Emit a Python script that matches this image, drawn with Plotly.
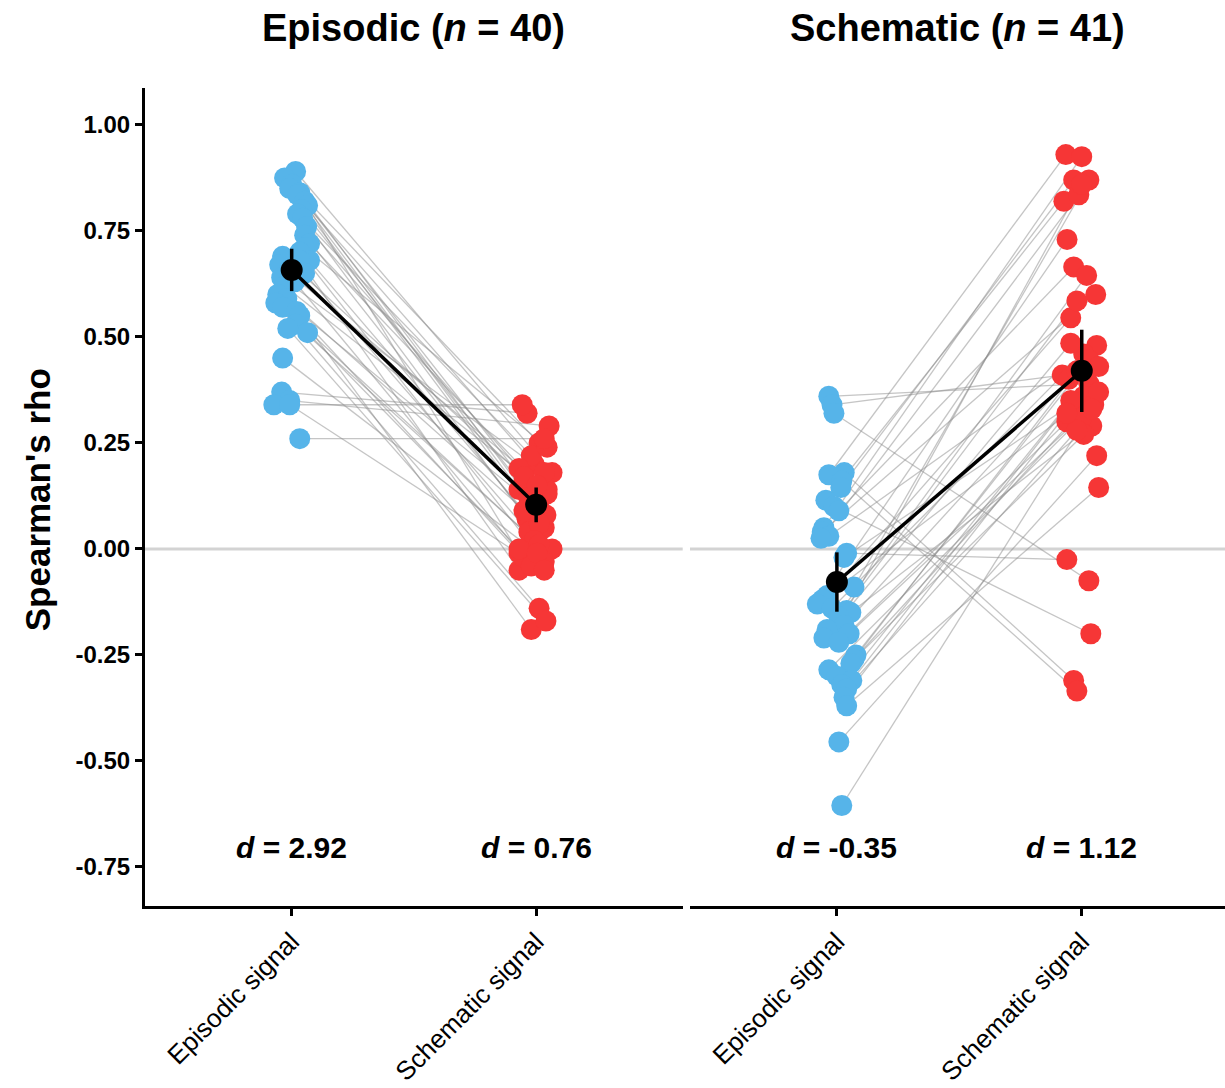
import plotly.graph_objects as go

# ---------------- data ----------------
categories = ["Episodic signal", "Schematic signal"]
panel_titles = ["<b>Episodic (<i>n</i> = 40)</b>", "<b>Schematic (<i>n</i> = 41)</b>"]
d_labels = [["<b><i>d</i> = 2.92</b>", "<b><i>d</i> = 0.76</b>"],
            ["<b><i>d</i> = -0.35</b>", "<b><i>d</i> = 1.12</b>"]]

# Episodic-task group (n = 40): per-subject rho for episodic and schematic signal
epi_task_episodic = [0.89, 0.875, 0.86, 0.85, 0.84, 0.835, 0.82, 0.81, 0.80, 0.79,
                     0.78, 0.76, 0.74, 0.72, 0.71, 0.70, 0.69, 0.68, 0.68, 0.67,
                     0.66, 0.65, 0.64, 0.63, 0.62, 0.60, 0.59, 0.58, 0.57, 0.56,
                     0.55, 0.53, 0.52, 0.51, 0.45, 0.37, 0.35, 0.34, 0.34, 0.26]
epi_task_schematic = [0.18, 0.14, 0.25, 0.05, 0.12, 0.20, -0.01, 0.16, 0.10, 0.22,
                      0.07, 0.19, 0.00, 0.13, 0.24, -0.03, 0.17, 0.09, -0.05, 0.14,
                      0.11, 0.04, 0.18, -0.02, 0.15, 0.08, 0.06, -0.14, 0.02, -0.19,
                      -0.04, 0.01, -0.17, 0.00, -0.01, 0.32, 0.29, 0.34, -0.05, 0.26]
# jitter (category units) as seen in the picture
epi_task_episodic_jit = [0.016, -0.029, 0.0, -0.008, 0.033, 0.024, 0.053, 0.065, 0.041, 0.024,
                         0.045, 0.061, 0.053, 0.073, 0.053, 0.033, -0.037, 0.073, 0.033, -0.049,
                         -0.008, 0.053, -0.041, 0.012, -0.029, -0.057, -0.02, -0.065, -0.037, 0.02,
                         0.033, 0.016, -0.016, 0.065, -0.037, -0.041, -0.008, -0.073, -0.008, 0.033]
epi_task_schematic_jit = [0.065, -0.07, 0.012, 0.033, -0.03, -0.008, -0.07, -0.05, 0.012, -0.02,
                          -0.037, -0.07, 0.065, 0.045, 0.045, 0.033, -0.05, -0.05, -0.07, 0.045,
                          -0.008, -0.03, 0.033, -0.05, 0.004, 0.04, 0.012, 0.012, -0.008, -0.02,
                          -0.02, 0.012, 0.04, -0.07, 0.004, -0.037, 0.053, -0.057, 0.033, 0.033]

# Schematic-task group (n = 41)
sch_task_episodic = [0.36, 0.34, 0.32, 0.18, 0.175, 0.16, 0.145, 0.115, 0.10, 0.09,
                     0.05, 0.04, 0.03, 0.025, -0.01, -0.02, -0.09, -0.11, -0.12, -0.13,
                     -0.14, -0.145, -0.15, -0.16, -0.18, -0.19, -0.20, -0.21, -0.22, -0.25,
                     -0.26, -0.27, -0.285, -0.30, -0.31, -0.32, -0.33, -0.35, -0.37, -0.455, -0.605]
sch_task_schematic = [0.39, 0.41, -0.075, -0.31, 0.93, -0.335, 0.87, 0.82, -0.20, 0.665,
                      0.925, 0.60, 0.48, 0.835, -0.025, 0.36, 0.87, 0.545, 0.33, 0.73,
                      0.46, 0.86, 0.29, 0.585, 0.40, 0.645, 0.34, 0.485, 0.30, 0.445,
                      0.37, 0.42, 0.31, 0.27, 0.43, 0.35, 0.28, 0.32, 0.145, 0.22, 0.33]
sch_task_episodic_jit = [-0.033, -0.02, -0.012, 0.03, -0.033, 0.02, 0.016, -0.045, -0.012, 0.008,
                         -0.053, -0.06, -0.033, -0.065, 0.04, 0.029, 0.07, -0.04, -0.06, -0.08,
                         -0.02, 0.04, 0.057, 0.008, 0.029, -0.04, 0.05, -0.053, 0.008, 0.078,
                         0.07, 0.057, -0.033, 0.0, 0.061, 0.02, 0.04, 0.029, 0.04, 0.008, 0.02]
sch_task_schematic_jit = [0.029, -0.08, 0.029, -0.033, -0.065, -0.02, -0.033, -0.073, 0.037, -0.033,
                          0.0, 0.057, 0.061, -0.012, -0.061, 0.008, 0.029, -0.045, -0.033, -0.06,
                          0.008, 0.0, 0.041, -0.02, -0.053, 0.02, 0.049, -0.045, -0.061, 0.029,
                          0.069, -0.02, 0.0, 0.008, 0.069, -0.045, -0.02, -0.061, 0.069, 0.061, 0.041]

# group means and 95% CI half-widths
means = [[0.658, 0.104], [-0.078, 0.42]]
ci_half = [[0.05, 0.041], [0.07, 0.097]]

BLUE = "#56B4E9"
RED = "#F63636"
FONT = "Liberation Sans, Arial, Helvetica, sans-serif"

fig = go.Figure()

groups = [
    (epi_task_episodic, epi_task_schematic, epi_task_episodic_jit, epi_task_schematic_jit, "x"),
    (sch_task_episodic, sch_task_schematic, sch_task_episodic_jit, sch_task_schematic_jit, "x2"),
]

for gi, (ep, sc, jep, jsc, xa) in enumerate(groups):
    lx, ly = [], []
    for a, b, ja, jb in zip(ep, sc, jep, jsc):
        lx += [1 + ja, 2 + jb, None]
        ly += [a, b, None]
    fig.add_trace(go.Scatter(x=lx, y=ly, mode="lines", xaxis=xa, yaxis="y",
                             line=dict(color="rgba(140,140,140,0.5)", width=1.3),
                             hoverinfo="skip", showlegend=False))
    fig.add_trace(go.Scatter(x=[1 + j for j in jep], y=ep, mode="markers", xaxis=xa, yaxis="y",
                             marker=dict(color=BLUE, size=21, line=dict(width=0)),
                             showlegend=False))
    fig.add_trace(go.Scatter(x=[2 + j for j in jsc], y=sc, mode="markers", xaxis=xa, yaxis="y",
                             marker=dict(color=RED, size=21, line=dict(width=0)),
                             showlegend=False))
    fig.add_trace(go.Scatter(x=[1, 2], y=means[gi], mode="lines+markers", xaxis=xa, yaxis="y",
                             line=dict(color="black", width=3.5),
                             marker=dict(color="black", size=22),
                             error_y=dict(type="data", array=ci_half[gi], color="black",
                                          thickness=3.5, width=0),
                             showlegend=False))

xaxis_common = dict(range=[0.4, 2.6], tickvals=[1, 2], ticktext=categories, tickangle=-45,
                    showline=True, linecolor="black", linewidth=3, ticks="outside",
                    ticklen=7, tickwidth=3, tickcolor="black", showgrid=False, zeroline=False,
                    automargin=False,
                    tickfont=dict(family=FONT, size=26, color="black"), anchor="y")

fig.update_layout(
    width=1225, height=1088,
    margin=dict(l=145, r=0, t=88, b=182),
    paper_bgcolor="white", plot_bgcolor="white",
    font=dict(family=FONT, color="black"),
    xaxis=dict(domain=[0, 0.498], **xaxis_common),
    xaxis2=dict(domain=[0.5046, 1], **{**xaxis_common, "range": [0.4, 2.585]}),
    yaxis=dict(range=[-0.842, 1.087], tickvals=[-0.75, -0.5, -0.25, 0, 0.25, 0.5, 0.75, 1.0],
               ticktext=["<b>%.2f</b>" % v for v in [-0.75, -0.5, -0.25, 0, 0.25, 0.5, 0.75, 1.0]],
               showline=True, linecolor="black", linewidth=3, ticks="outside", ticklen=7,
               tickwidth=3, tickcolor="black", showgrid=False, zeroline=False,
               automargin=False,
               tickfont=dict(family=FONT, size=24, color="black")),
)

for xr in ["x", "x2"]:
    fig.add_shape(type="line", xref=xr, yref="y", x0=0.4, x1=2.6, y0=0, y1=0,
                  line=dict(color="#d3d3d3", width=3), layer="below")

fig.add_annotation(text="<b>Spearman's rho</b>", xref="paper", yref="paper",
                   x=-0.100, y=0.496, xanchor="center", yanchor="middle", textangle=-90,
                   showarrow=False, font=dict(family=FONT, size=35, color="black"))

for i, (t, xc) in enumerate(zip(panel_titles, [0.249, 0.7523])):
    fig.add_annotation(text=t, xref="paper", yref="paper", x=xc, y=1.073,
                       xanchor="center", yanchor="middle", showarrow=False,
                       font=dict(family=FONT, size=38, color="black"))

for gi, xa in enumerate(["x", "x2"]):
    for ci in range(2):
        fig.add_annotation(text=d_labels[gi][ci], xref=xa, yref="y", x=ci + 1, y=-0.705,
                           xanchor="center", yanchor="middle", showarrow=False,
                           font=dict(family=FONT, size=30, color="black"))

fig.write_html("out.html")
